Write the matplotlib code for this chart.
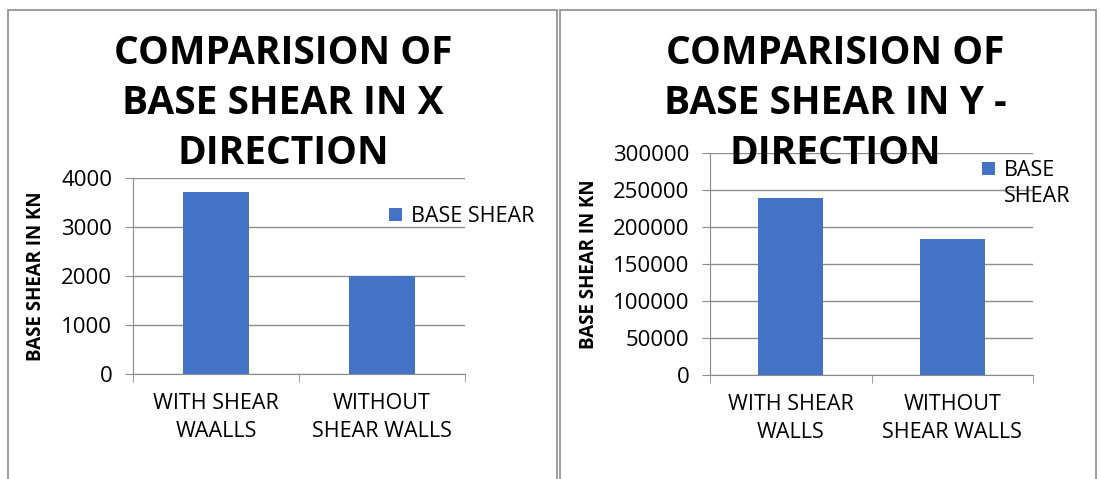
import matplotlib.pyplot as plt
from matplotlib.patches import Rectangle

categories_x = ['WITH SHEAR\nWAALLS', 'WITHOUT\nSHEAR WALLS']
categories_y = ['WITH SHEAR\nWALLS', 'WITHOUT\nSHEAR WALLS']
shear_x = [3715, 2010]
shear_y = [239000, 184000]
ticks_x = [0, 1000, 2000, 3000, 4000]
ticks_y = [0, 50000, 100000, 150000, 200000, 250000, 300000]
title_x = ['COMPARISION OF', 'BASE SHEAR IN X', 'DIRECTION']
title_y = ['COMPARISION OF', 'BASE SHEAR IN Y -', 'DIRECTION']

BLUE = '#4472C4'
GRID = '#8c8c8c'
W, H = 1100, 479

plt.rcParams['font.family'] = ['Open Sans', 'DejaVu Sans']

fig = plt.figure(figsize=(W / 100, H / 100), dpi=100)


def px(x0, y0, x1, y1):
    # pixel box (top-left origin) -> figure rect
    return [x0 / W, 1 - y1 / H, (x1 - x0) / W, (y1 - y0) / H]


def panel(box, cats, vals, ticks, ylim, title, title_x0, ylabel_x, legend_xy, legend_label):
    ax = fig.add_axes(px(*box))
    pos = range(len(cats))
    bars = ax.bar(pos, vals, width=0.4, color=BLUE, zorder=3)
    ax.set_xlim(-0.5, len(cats) - 0.5)
    ax.set_ylim(*ylim)
    ax.set_yticks(ticks)
    ax.set_yticklabels([str(t) for t in ticks], fontsize=16)
    ax.set_xticks(list(pos))
    ax.set_xticklabels(cats, fontsize=15.5, linespacing=1.4)
    ax.set_xticks([-0.5, 0.5, 1.5], minor=True)
    ax.tick_params(axis='x', which='major', length=0, pad=14)
    ax.tick_params(axis='x', which='minor', length=6, color=GRID)
    ax.tick_params(axis='y', length=6, color=GRID, pad=9)
    ax.yaxis.grid(True, color=GRID, linewidth=1)
    for s in ['top', 'right']:
        ax.spines[s].set_visible(False)
    for s in ['left', 'bottom']:
        ax.spines[s].set_color(GRID)
    fig.text(ylabel_x / W, 1 - ((box[1] + box[3]) / 2) / H, 'BASE SHEAR IN KN',
             rotation=90, fontsize=13.5, fontweight='bold', ha='center', va='center')
    # one text per title line, 50 px apart
    for i, line in enumerate(title):
        fig.text(title_x0 / W, 1 - (53 + 50 * i) / H, line, fontsize=28,
                 fontweight='bold', ha='center', va='center', zorder=10)
    fig.legend(handles=[bars], labels=[legend_label], loc='upper left',
               bbox_to_anchor=(legend_xy[0] / W, 1 - legend_xy[1] / H),
               frameon=False, fontsize=15.5, handlelength=0.6, handleheight=0.6,
               handletextpad=0.4, borderpad=0, borderaxespad=0, labelspacing=0)
    return ax


panel((133, 178, 465, 374), categories_x, shear_x, ticks_x, (0, 4000),
      title_x, 283, 36, (389, 206), 'BASE SHEAR')
panel((710, 153, 1033, 375), categories_y, shear_y, ticks_y, (0, 300000),
      title_y, 835, 589, (982, 160), 'BASE')
# second line of the wrapped legend label, square stays beside the first line
fig.text(1004 / W, 1 - 197 / H, 'SHEAR', fontsize=15.5, ha='left', va='center')

# chart borders
fig.patches.append(Rectangle((8 / W, -0.1), (557 - 8) / W, 1.1 - 10 / H,
                             transform=fig.transFigure, fill=False, edgecolor='#8c8c8c', lw=1.2))
fig.patches.append(Rectangle((560 / W, -0.1), (1096 - 560) / W, 1.1 - 10 / H,
                             transform=fig.transFigure, fill=False, edgecolor='#8c8c8c', lw=1.2))

fig.savefig('out.png', dpi=100)
